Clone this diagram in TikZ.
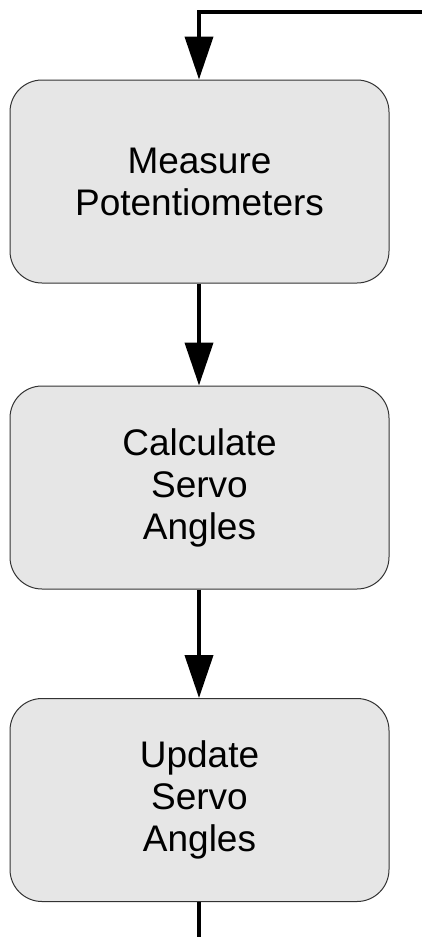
\documentclass[tikz,border=0pt]{standalone}
\usepackage{fontspec}
\setmainfont{Liberation Sans}
\usetikzlibrary{arrows.meta}
\definecolor{boxfill}{HTML}{E6E6E6}
\definecolor{boxline}{HTML}{333333}
\tikzset{
  stepbox/.style={draw=boxline, line width=1pt, fill=boxfill,
    rounded corners=32pt, minimum width=379pt, minimum height=203pt,
    align=center, inner sep=0pt,
    font=\fontsize{37pt}{42pt}\selectfont},
  flow/.style={line width=4pt, -{Triangle[length=43pt,width=28pt]}},
  plain/.style={line width=4pt}
}
\begin{document}
\begin{tikzpicture}[x=1pt,y=1pt]
  \useasboundingbox (0,0) rectangle (422,-937);
  \node[stepbox] (measure) at (199.5,-181.5) {Measure\\Potentiometers};
  \node[stepbox] (calc) at (199.5,-487.5) {Calculate\\Servo\\Angles};
  \node[stepbox] (update) at (199.5,-800) {Update\\Servo\\Angles};
  \coordinate (loopin) at (424,-12);
  \coordinate (bend) at (199,-12);
  \coordinate (loopout) at (199,-940);
  \draw[flow] (loopin) -- (bend) -- (bend |- measure.north);
  \draw[flow] (measure.south -| bend) -- (calc.north -| bend);
  \draw[flow] (calc.south -| bend) -- (update.north -| bend);
  \draw[plain] (update.south -| bend) -- (loopout);
\end{tikzpicture}
\end{document}
